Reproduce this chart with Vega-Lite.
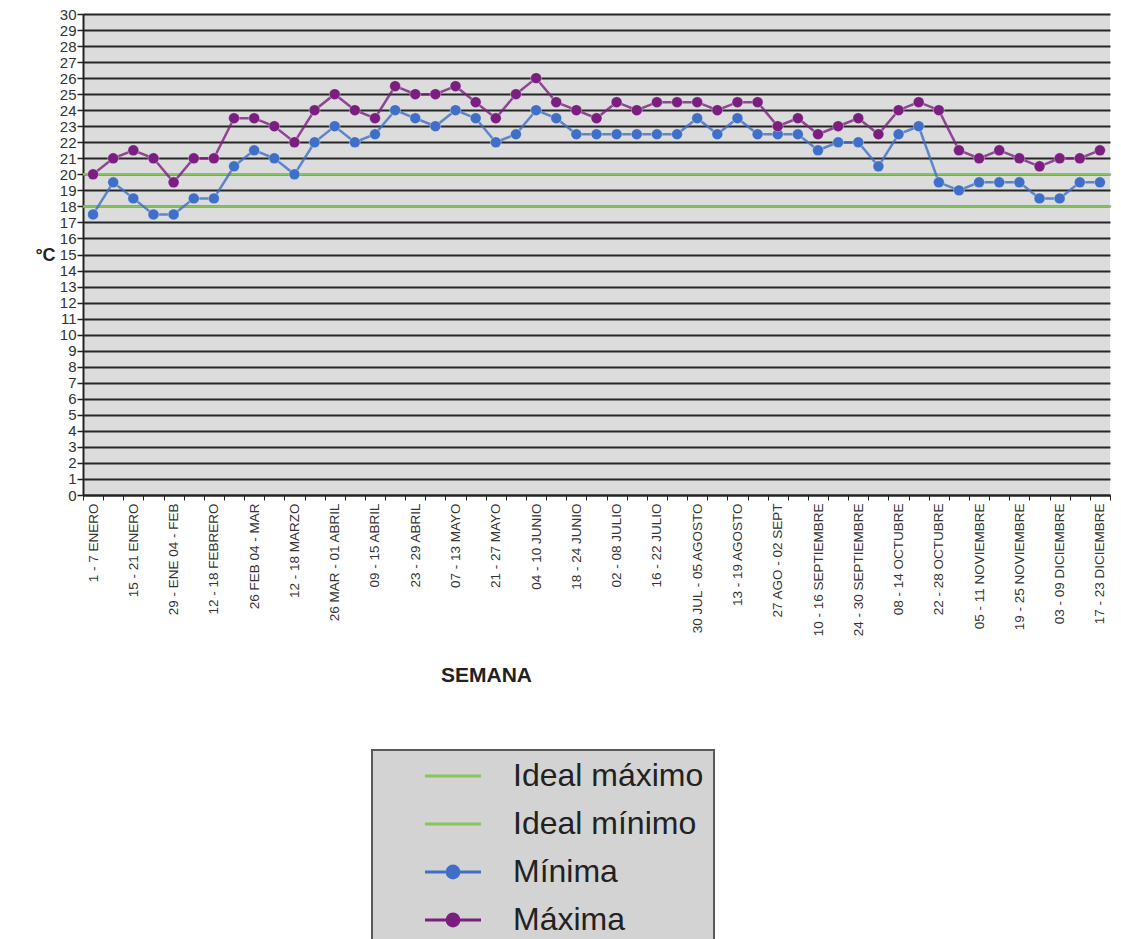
{
  "$schema": "https://vega.github.io/schema/vega-lite/v6.json",
  "width": 1027,
  "height": 481,
  "autosize": {"type": "none"},
  "padding": {"left": 83, "top": 14, "right": 11, "bottom": 444},
  "background": "white",
  "config": {
    "font": "Liberation Sans",
    "view": {"fill": "#dcdcdc", "stroke": null},
    "legend": {"strokeWidth": 2}
  },
  "datasets": {
    "ideal": [
      {"serie": "Ideal máximo", "temp": 20},
      {"serie": "Ideal mínimo", "temp": 18}
    ],
    "temps": [
      {"n": 1, "semana": "1 - 7 ENERO", "serie": "Mínima", "temp": 17.5},
      {"n": 2, "semana": "08 - 14 ENERO", "serie": "Mínima", "temp": 19.5},
      {"n": 3, "semana": "15 - 21 ENERO", "serie": "Mínima", "temp": 18.5},
      {"n": 4, "semana": "22 - 28 ENERO", "serie": "Mínima", "temp": 17.5},
      {"n": 5, "semana": "29 - ENE 04 - FEB", "serie": "Mínima", "temp": 17.5},
      {"n": 6, "semana": "05 - 11 FEBRERO", "serie": "Mínima", "temp": 18.5},
      {"n": 7, "semana": "12 - 18 FEBRERO", "serie": "Mínima", "temp": 18.5},
      {"n": 8, "semana": "19 - 25 FEBRERO", "serie": "Mínima", "temp": 20.5},
      {"n": 9, "semana": "26 FEB 04 - MAR", "serie": "Mínima", "temp": 21.5},
      {"n": 10, "semana": "05 - 11 MARZO", "serie": "Mínima", "temp": 21},
      {"n": 11, "semana": "12 - 18 MARZO", "serie": "Mínima", "temp": 20},
      {"n": 12, "semana": "19 - 25 MARZO", "serie": "Mínima", "temp": 22},
      {"n": 13, "semana": "26 MAR - 01 ABRIL", "serie": "Mínima", "temp": 23},
      {"n": 14, "semana": "02 - 08 ABRIL", "serie": "Mínima", "temp": 22},
      {"n": 15, "semana": "09 - 15 ABRIL", "serie": "Mínima", "temp": 22.5},
      {"n": 16, "semana": "16 - 22 ABRIL", "serie": "Mínima", "temp": 24},
      {"n": 17, "semana": "23 - 29 ABRIL", "serie": "Mínima", "temp": 23.5},
      {"n": 18, "semana": "30 ABR - 06 MAYO", "serie": "Mínima", "temp": 23},
      {"n": 19, "semana": "07 - 13 MAYO", "serie": "Mínima", "temp": 24},
      {"n": 20, "semana": "14 - 20 MAYO", "serie": "Mínima", "temp": 23.5},
      {"n": 21, "semana": "21 - 27 MAYO", "serie": "Mínima", "temp": 22},
      {"n": 22, "semana": "28 MAY - 03 JUNIO", "serie": "Mínima", "temp": 22.5},
      {"n": 23, "semana": "04 - 10 JUNIO", "serie": "Mínima", "temp": 24},
      {"n": 24, "semana": "11 - 17 JUNIO", "serie": "Mínima", "temp": 23.5},
      {"n": 25, "semana": "18 - 24 JUNIO", "serie": "Mínima", "temp": 22.5},
      {"n": 26, "semana": "25 JUN - 01 JULIO", "serie": "Mínima", "temp": 22.5},
      {"n": 27, "semana": "02 - 08 JULIO", "serie": "Mínima", "temp": 22.5},
      {"n": 28, "semana": "09 - 15 JULIO", "serie": "Mínima", "temp": 22.5},
      {"n": 29, "semana": "16 - 22 JULIO", "serie": "Mínima", "temp": 22.5},
      {"n": 30, "semana": "23 - 29 JULIO", "serie": "Mínima", "temp": 22.5},
      {"n": 31, "semana": "30 JUL - 05  AGOSTO", "serie": "Mínima", "temp": 23.5},
      {"n": 32, "semana": "06 - 12 AGOSTO", "serie": "Mínima", "temp": 22.5},
      {"n": 33, "semana": "13 - 19 AGOSTO", "serie": "Mínima", "temp": 23.5},
      {"n": 34, "semana": "20 - 26 AGOSTO", "serie": "Mínima", "temp": 22.5},
      {"n": 35, "semana": "27 AGO - 02 SEPT", "serie": "Mínima", "temp": 22.5},
      {"n": 36, "semana": "03 - 09 SEPTIEMBRE", "serie": "Mínima", "temp": 22.5},
      {"n": 37, "semana": "10 - 16 SEPTIEMBRE", "serie": "Mínima", "temp": 21.5},
      {"n": 38, "semana": "17 - 23 SEPTIEMBRE", "serie": "Mínima", "temp": 22},
      {"n": 39, "semana": "24 - 30 SEPTIEMBRE", "serie": "Mínima", "temp": 22},
      {"n": 40, "semana": "01 - 07 OCTUBRE", "serie": "Mínima", "temp": 20.5},
      {"n": 41, "semana": "08 - 14 OCTUBRE", "serie": "Mínima", "temp": 22.5},
      {"n": 42, "semana": "15 - 21 OCTUBRE", "serie": "Mínima", "temp": 23},
      {"n": 43, "semana": "22 - 28 OCTUBRE", "serie": "Mínima", "temp": 19.5},
      {"n": 44, "semana": "29 OCT - 04 NOVIEMBRE", "serie": "Mínima", "temp": 19},
      {"n": 45, "semana": "05 - 11 NOVIEMBRE", "serie": "Mínima", "temp": 19.5},
      {"n": 46, "semana": "12 - 18 NOVIEMBRE", "serie": "Mínima", "temp": 19.5},
      {"n": 47, "semana": "19 - 25 NOVIEMBRE", "serie": "Mínima", "temp": 19.5},
      {"n": 48, "semana": "26 NOV - 02 DICIEMBRE", "serie": "Mínima", "temp": 18.5},
      {"n": 49, "semana": "03 - 09 DICIEMBRE", "serie": "Mínima", "temp": 18.5},
      {"n": 50, "semana": "10 - 16 DICIEMBRE", "serie": "Mínima", "temp": 19.5},
      {"n": 51, "semana": "17 - 23 DICIEMBRE", "serie": "Mínima", "temp": 19.5},
      {"n": 1, "semana": "1 - 7 ENERO", "serie": "Máxima", "temp": 20},
      {"n": 2, "semana": "08 - 14 ENERO", "serie": "Máxima", "temp": 21},
      {"n": 3, "semana": "15 - 21 ENERO", "serie": "Máxima", "temp": 21.5},
      {"n": 4, "semana": "22 - 28 ENERO", "serie": "Máxima", "temp": 21},
      {"n": 5, "semana": "29 - ENE 04 - FEB", "serie": "Máxima", "temp": 19.5},
      {"n": 6, "semana": "05 - 11 FEBRERO", "serie": "Máxima", "temp": 21},
      {"n": 7, "semana": "12 - 18 FEBRERO", "serie": "Máxima", "temp": 21},
      {"n": 8, "semana": "19 - 25 FEBRERO", "serie": "Máxima", "temp": 23.5},
      {"n": 9, "semana": "26 FEB 04 - MAR", "serie": "Máxima", "temp": 23.5},
      {"n": 10, "semana": "05 - 11 MARZO", "serie": "Máxima", "temp": 23},
      {"n": 11, "semana": "12 - 18 MARZO", "serie": "Máxima", "temp": 22},
      {"n": 12, "semana": "19 - 25 MARZO", "serie": "Máxima", "temp": 24},
      {"n": 13, "semana": "26 MAR - 01 ABRIL", "serie": "Máxima", "temp": 25},
      {"n": 14, "semana": "02 - 08 ABRIL", "serie": "Máxima", "temp": 24},
      {"n": 15, "semana": "09 - 15 ABRIL", "serie": "Máxima", "temp": 23.5},
      {"n": 16, "semana": "16 - 22 ABRIL", "serie": "Máxima", "temp": 25.5},
      {"n": 17, "semana": "23 - 29 ABRIL", "serie": "Máxima", "temp": 25},
      {"n": 18, "semana": "30 ABR - 06 MAYO", "serie": "Máxima", "temp": 25},
      {"n": 19, "semana": "07 - 13 MAYO", "serie": "Máxima", "temp": 25.5},
      {"n": 20, "semana": "14 - 20 MAYO", "serie": "Máxima", "temp": 24.5},
      {"n": 21, "semana": "21 - 27 MAYO", "serie": "Máxima", "temp": 23.5},
      {"n": 22, "semana": "28 MAY - 03 JUNIO", "serie": "Máxima", "temp": 25},
      {"n": 23, "semana": "04 - 10 JUNIO", "serie": "Máxima", "temp": 26},
      {"n": 24, "semana": "11 - 17 JUNIO", "serie": "Máxima", "temp": 24.5},
      {"n": 25, "semana": "18 - 24 JUNIO", "serie": "Máxima", "temp": 24},
      {"n": 26, "semana": "25 JUN - 01 JULIO", "serie": "Máxima", "temp": 23.5},
      {"n": 27, "semana": "02 - 08 JULIO", "serie": "Máxima", "temp": 24.5},
      {"n": 28, "semana": "09 - 15 JULIO", "serie": "Máxima", "temp": 24},
      {"n": 29, "semana": "16 - 22 JULIO", "serie": "Máxima", "temp": 24.5},
      {"n": 30, "semana": "23 - 29 JULIO", "serie": "Máxima", "temp": 24.5},
      {"n": 31, "semana": "30 JUL - 05  AGOSTO", "serie": "Máxima", "temp": 24.5},
      {"n": 32, "semana": "06 - 12 AGOSTO", "serie": "Máxima", "temp": 24},
      {"n": 33, "semana": "13 - 19 AGOSTO", "serie": "Máxima", "temp": 24.5},
      {"n": 34, "semana": "20 - 26 AGOSTO", "serie": "Máxima", "temp": 24.5},
      {"n": 35, "semana": "27 AGO - 02 SEPT", "serie": "Máxima", "temp": 23},
      {"n": 36, "semana": "03 - 09 SEPTIEMBRE", "serie": "Máxima", "temp": 23.5},
      {"n": 37, "semana": "10 - 16 SEPTIEMBRE", "serie": "Máxima", "temp": 22.5},
      {"n": 38, "semana": "17 - 23 SEPTIEMBRE", "serie": "Máxima", "temp": 23},
      {"n": 39, "semana": "24 - 30 SEPTIEMBRE", "serie": "Máxima", "temp": 23.5},
      {"n": 40, "semana": "01 - 07 OCTUBRE", "serie": "Máxima", "temp": 22.5},
      {"n": 41, "semana": "08 - 14 OCTUBRE", "serie": "Máxima", "temp": 24},
      {"n": 42, "semana": "15 - 21 OCTUBRE", "serie": "Máxima", "temp": 24.5},
      {"n": 43, "semana": "22 - 28 OCTUBRE", "serie": "Máxima", "temp": 24},
      {"n": 44, "semana": "29 OCT - 04 NOVIEMBRE", "serie": "Máxima", "temp": 21.5},
      {"n": 45, "semana": "05 - 11 NOVIEMBRE", "serie": "Máxima", "temp": 21},
      {"n": 46, "semana": "12 - 18 NOVIEMBRE", "serie": "Máxima", "temp": 21.5},
      {"n": 47, "semana": "19 - 25 NOVIEMBRE", "serie": "Máxima", "temp": 21},
      {"n": 48, "semana": "26 NOV - 02 DICIEMBRE", "serie": "Máxima", "temp": 20.5},
      {"n": 49, "semana": "03 - 09 DICIEMBRE", "serie": "Máxima", "temp": 21},
      {"n": 50, "semana": "10 - 16 DICIEMBRE", "serie": "Máxima", "temp": 21},
      {"n": 51, "semana": "17 - 23 DICIEMBRE", "serie": "Máxima", "temp": 21.5}
    ]
  },
  "resolve": {"scale": {"color": "shared"}},
  "encoding": {
    "y": {
      "field": "temp",
      "type": "quantitative",
      "scale": {"domain": [0, 30], "nice": false, "zero": true},
      "axis": {
        "values": [0,1,2,3,4,5,6,7,8,9,10,11,12,13,14,15,16,17,18,19,20,21,22,23,24,25,26,27,28,29,30],
        "title": "°C",
        "titleAngle": 0,
        "titleAlign": "center",
        "titleBaseline": "middle",
        "titleX": -38,
        "titleY": 241,
        "titleFontSize": 18,
        "titleFontWeight": "bold",
        "titleColor": "#222",
        "labelFontSize": 15,
        "labelColor": "#333",
        "labelPadding": 1,
        "tickSize": 6,
        "tickColor": "#222",
        "tickWidth": 1.5,
        "domainColor": "#222",
        "domainWidth": 2,
        "grid": true,
        "gridColor": "#262626",
        "gridWidth": 2,
        "labelFlush": false
      }
    },
    "color": {
      "field": "serie",
      "type": "nominal",
      "scale": {
        "domain": ["Ideal máximo", "Ideal mínimo", "Mínima", "Máxima"],
        "range": ["#86c45c", "#86c45c", "#3f6fc6", "#7a1f7f"]
      },
      "legend": {
        "orient": "none",
        "legendX": 289,
        "legendY": 736,
        "title": null,
        "fillColor": "#d3d3d3",
        "strokeColor": "#5a5a5a",
        "padding": 10,
        "labelFontSize": 32,
        "labelColor": "#222",
        "labelLimit": 600,
        "labelOffset": 44,
        "symbolOffset": 55,
        "symbolSize": 784,
        "rowPadding": 16,
        "symbolStrokeWidth": 3,
        "encode": {
          "symbols": {
            "update": {
              "shape": {"signal": "(datum.value == 'Mínima' || datum.value == 'Máxima') ? 'M-2,0L2,0M-0.42,0A0.42,0.42,0,1,1,0.42,0A0.42,0.42,0,1,1,-0.42,0Z' : 'M-2,0L2,0'"},
              "fill": {"signal": "(datum.value == 'Mínima' || datum.value == 'Máxima') ? scale('color', datum.value) : 'transparent'"},
              "stroke": {"signal": "scale('color', datum.value)"},
              "strokeWidth": {"value": 3},
              "opacity": {"value": 1}
            }
          }
        }
      }
    }
  },
  "layer": [
    {
      "data": {"name": "ideal"},
      "mark": {"type": "rule", "strokeWidth": 2.5}
    },
    {
      "data": {"name": "temps"},
      "mark": {"type": "line", "strokeWidth": 2.5, "opacity": 0.8},
      "encoding": {
        "x": {
          "field": "semana",
          "type": "nominal",
          "sort": {"field": "n"},
          "scale": {"type": "band", "paddingInner": 0, "paddingOuter": 0},
          "axis": {
            "labelExpr": "round(datum.index * 50) % 2 == 0 ? datum.label : ''",
            "labelOverlap": false,
            "labelAngle": -90,
            "labelFontSize": 13.5,
            "labelColor": "#333",
            "labelPadding": 3,
            "tickBand": "extent",
            "tickSize": 5,
            "tickColor": "#222",
            "domainColor": "#222",
            "domainWidth": 2,
            "title": "SEMANA",
            "titleX": 403,
            "titleY": 180,
            "titleAlign": "center",
            "titleBaseline": "middle",
            "titleFontSize": 21,
            "titleFontWeight": "bold",
            "titleColor": "#222",
            "grid": false
          }
        },
        "order": {"field": "n", "type": "quantitative"}
      }
    },
    {
      "data": {"name": "temps"},
      "mark": {"type": "circle", "size": 120, "opacity": 1, "stroke": "#ffffff", "strokeOpacity": 0.35, "strokeWidth": 1},
      "encoding": {
        "x": {"field": "semana", "type": "nominal", "sort": {"field": "n"}}
      }
    }
  ]
}
